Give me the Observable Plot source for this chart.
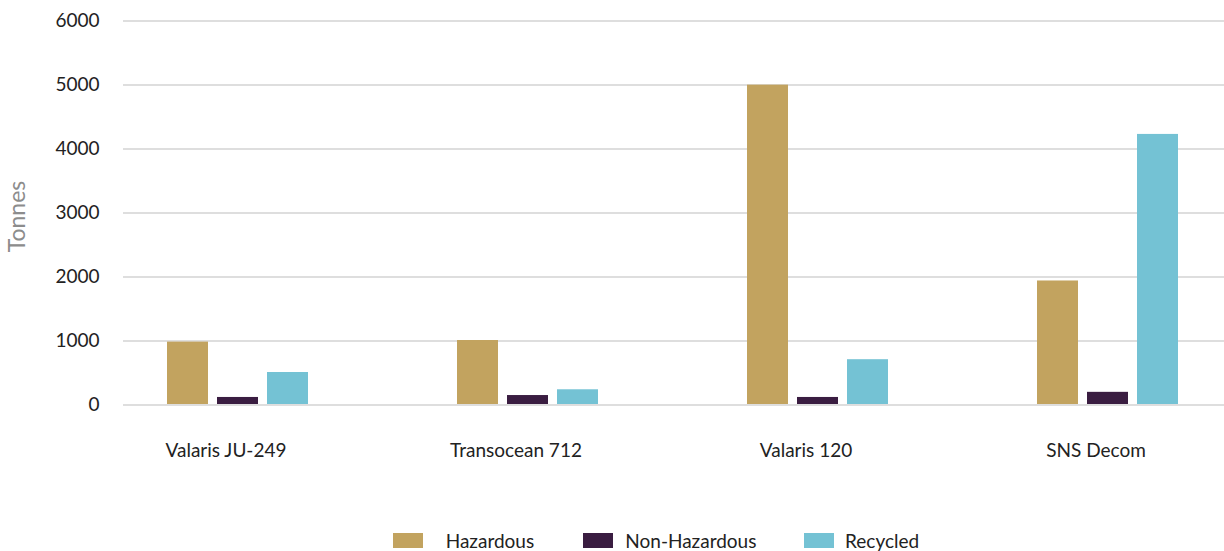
<!DOCTYPE html>
<html>
<head>
<meta charset="utf-8">
<script src="https://cdn.jsdelivr.net/npm/d3@7"></script>
<script src="https://cdn.jsdelivr.net/npm/@observablehq/plot@0.6"></script>
<style>
  html, body { margin: 0; padding: 0; background: #fff; overflow: hidden; }
  #wrap { position: relative; width: 1224px; height: 551px; overflow: hidden; font-family: Lato, sans-serif; }
  #legend { position: absolute; left: 0; top: 525px; height: 30px; width: 1224px; }
  .item { position: absolute; top: 0; height: 30px; display: flex; align-items: center; font-size: 19px; color: #222; }
  .sw { width: 30px; height: 15px; }
</style>
</head>
<body>
<div id="wrap"></div>
<script>
const categories = ["Valaris JU-249", "Transocean 712", "Valaris 120", "SNS Decom"];
const series = ["Hazardous", "Non-Hazardous", "Recycled"];
const hazardous = [975, 1000, 4990, 1930];
const nonHazardous = [110, 140, 110, 190];
const recycled = [500, 230, 700, 4220];
const yTicks = [0, 1000, 2000, 3000, 4000, 5000, 6000];
const colors = ["#C2A35F", "#3A1D41", "#74C2D4"];

const valuesBySeries = [hazardous, nonHazardous, recycled];
const rows = [];
categories.forEach((c, i) => {
  series.forEach((s, j) => rows.push({category: c, series: s, value: valuesBySeries[j][i]}));
});
const gridRows = [];
categories.forEach((c) => yTicks.forEach((t) => gridRows.push({category: c, tick: t})));

const chart = Plot.plot({
  width: 1224,
  height: 510,
  marginLeft: 123,
  marginRight: 0,
  marginTop: 20,
  marginBottom: 106,
  style: {fontFamily: "Lato, sans-serif", fontSize: "19px", color: "#222", background: "#fff"},
  fx: {domain: categories, paddingInner: 0.4527, paddingOuter: 0.1214, align: 0.484, label: null},
  x: {domain: series, padding: 0.18, axis: null},
  y: {domain: [0, 6000], axis: null},
  color: {domain: series, range: colors},
  marks: [
    Plot.ruleY(gridRows, {fx: "category", y: "tick", stroke: "#dedede", strokeWidth: 2, insetLeft: -35, insetRight: -131, shapeRendering: "crispEdges"}),
    Plot.barY(rows, {fx: "category", x: "series", y: "value", fill: "series"}),
    Plot.axisY(yTicks, {tickSize: 0, tickPadding: 59, fontSize: 19, tickFormat: "d", label: null}),
    Plot.axisFx({anchor: "bottom", tickSize: 0, tickPadding: 39, fontSize: 19, dx: -12, label: null}),
    Plot.text(["Tonnes"], {facet: "super", frameAnchor: "left", textAnchor: "middle", rotate: -90, dx: -141, dy: 4, fill: "#8c8c8c", fontSize: 23})
  ]
});

const wrap = document.getElementById("wrap");
wrap.appendChild(chart);

const legend = document.createElement("div");
legend.id = "legend";
const itemLeft = [392.7, 583.3, 804];
const labelGap = [23, 12, 11];
series.forEach((s, j) => {
  const it = document.createElement("div");
  it.className = "item";
  it.style.left = itemLeft[j] + "px";
  const sw = document.createElement("div");
  sw.className = "sw";
  sw.style.background = colors[j];
  const lab = document.createElement("span");
  lab.textContent = s;
  lab.style.marginLeft = labelGap[j] + "px";
  it.appendChild(sw);
  it.appendChild(lab);
  legend.appendChild(it);
});
wrap.appendChild(legend);
</script>
</body>
</html>
